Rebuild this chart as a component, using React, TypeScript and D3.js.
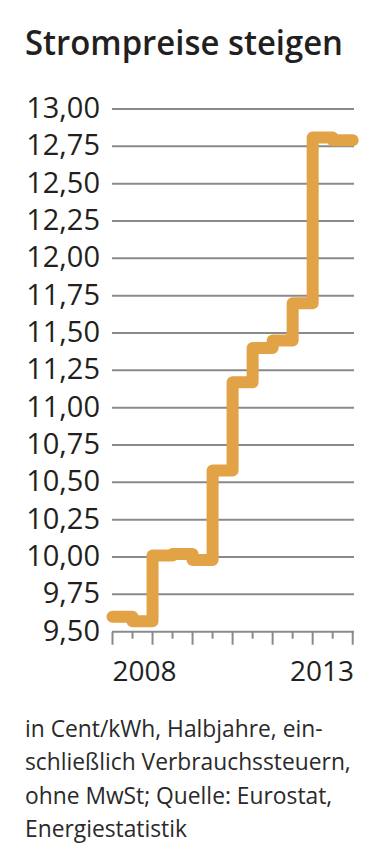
import React from "react";
import * as d3 from "d3";

const periods = ["2008 H1", "2008 H2", "2009 H1", "2009 H2", "2010 H1", "2010 H2", "2011 H1", "2011 H2", "2012 H1", "2012 H2", "2013 H1", "2013 H2"];
const prices = [9.6, 9.57, 10.01, 10.02, 9.98, 10.58, 11.17, 11.4, 11.45, 11.7, 12.81, 12.79];
const yTicks = [9.5, 9.75, 10.0, 10.25, 10.5, 10.75, 11.0, 11.25, 11.5, 11.75, 12.0, 12.25, 12.5, 12.75, 13.0];
const yearLabels = ["2008", "2013"];
const title = "Strompreise steigen";
const noteLines = [
  "in Cent/kWh, Halbjahre, ein-",
  "schließlich Verbrauchssteuern,",
  "ohne MwSt; Quelle: Eurostat,",
  "Energiestatistik",
];

const W = 378;
const H = 865;
const FONT = "'Open Sans', 'DejaVu Sans', sans-serif";

export default function App() {
  const x = d3.scaleLinear().domain([0, periods.length]).range([112.5, 352.7]);
  const y = d3.scaleLinear().domain([9.5, 13.0]).range([631.7, 109]);
  const fmt = (v: number) => v.toFixed(2).replace(".", ",");

  const pts: [number, number][] = prices.map((v, i) => [i, v]);
  pts.push([prices.length, prices[prices.length - 1]]);
  const line = d3
    .line<[number, number]>()
    .x((d) => x(d[0]))
    .y((d) => y(d[1]))
    .curve(d3.curveStepAfter);

  const tickIdx = d3.range(0, periods.length + 1);

  return (
    <svg
      width={W}
      height={H}
      style={{ position: "absolute", left: 0, top: 0, background: "#fff" }}
    >
      <text
        x={25}
        y={55}
        fontFamily={FONT}
        fontWeight={600}
        fontSize={35}
        fill="#231f20"
        textLength={318}
        lengthAdjust="spacingAndGlyphs"
      >
        {title}
      </text>

      {yTicks.map((t) => (
        <g key={t}>
          <line
            x1={112}
            x2={354}
            y1={y(t)}
            y2={y(t)}
            stroke="#8a8a8a"
            strokeWidth={2}
          />
          <text
            x={100}
            y={y(t) + 9}
            textAnchor="end"
            fontFamily={FONT}
            fontSize={29}
            fill="#231f20"
          >
            {fmt(t)}
          </text>
        </g>
      ))}

      {tickIdx.map((i) => (
        <line
          key={i}
          x1={x(i)}
          x2={x(i)}
          y1={y(9.5)}
          y2={y(9.5) + (i % 2 === 0 ? 13 : 7)}
          stroke="#8a8a8a"
          strokeWidth={2}
        />
      ))}

      <text x={x(0)} y={681} fontFamily={FONT} fontSize={28} fill="#231f20">
        {yearLabels[0]}
      </text>
      <text
        x={354}
        y={681}
        textAnchor="end"
        fontFamily={FONT}
        fontSize={28}
        fill="#231f20"
      >
        {yearLabels[1]}
      </text>

      <path
        d={line(pts) || ""}
        fill="none"
        stroke="#e1a345"
        strokeWidth={12}
        strokeLinejoin="round"
        strokeLinecap="round"
      />

      {noteLines.map((l, i) => (
        <text
          key={i}
          x={25}
          y={737 + i * 33.3}
          fontFamily={FONT}
          fontSize={22.8}
          fill="#2a2a2a"
        >
          {l}
        </text>
      ))}
    </svg>
  );
}
